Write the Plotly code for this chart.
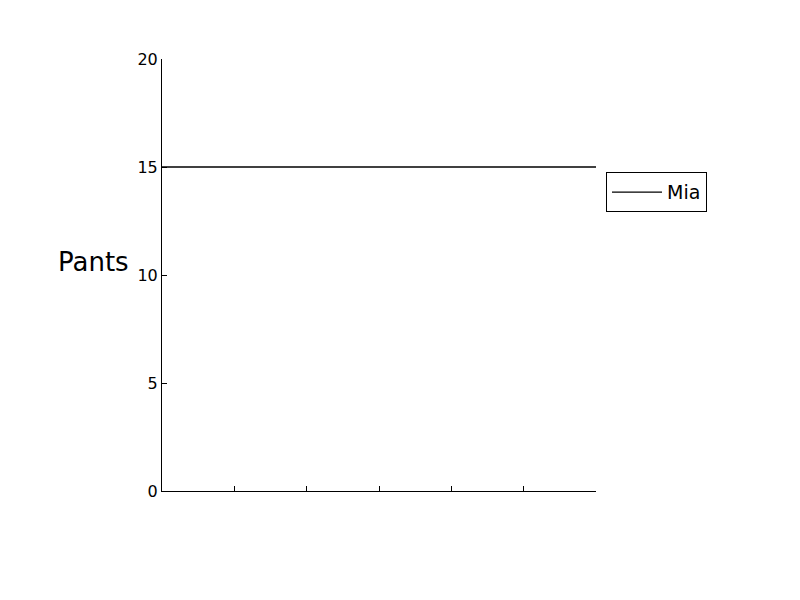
import plotly.graph_objects as go

x_vals = [0, 1, 2, 3, 4, 5, 6]
mia = [15, 15, 15, 15, 15, 15, 15]
y_ticks = [0, 5, 10, 15, 20]
series_name = "Mia"
y_label = "Pants"

fig = go.Figure()
fig.add_trace(go.Scatter(x=x_vals, y=mia, mode="lines", name=series_name,
                         line=dict(color="black", width=1.3)))

font = "DejaVu Sans"
fig.update_layout(
    width=800, height=600,
    margin=dict(l=162, r=204, t=59, b=109),
    paper_bgcolor="white", plot_bgcolor="white",
    font=dict(family=font, size=16, color="black"),
    showlegend=True,
    legend=dict(x=1.023, y=0.738, xanchor="left", yanchor="top",
                bordercolor="black", borderwidth=1, bgcolor="white",
                itemwidth=50, tracegroupgap=0,
                font=dict(size=19, family=font)),
    xaxis=dict(range=[0, 6], tickvals=x_vals, showticklabels=False,
               ticks="inside", ticklen=5, tickcolor="black",
               showline=True, linecolor="black", linewidth=1,
               showgrid=False, zeroline=False),
    yaxis=dict(range=[0, 20], tickvals=y_ticks,
               ticks="inside", ticklen=5, tickcolor="black",
               showline=True, linecolor="black", linewidth=1,
               showgrid=False, zeroline=False,
               tickfont=dict(size=16, family=font)),
    annotations=[dict(text=y_label, xref="paper", yref="y", x=-0.0714, y=10.6,
                      xanchor="right", yanchor="middle", showarrow=False,
                      font=dict(size=26, family=font))],
)

fig.write_html("out.html")
